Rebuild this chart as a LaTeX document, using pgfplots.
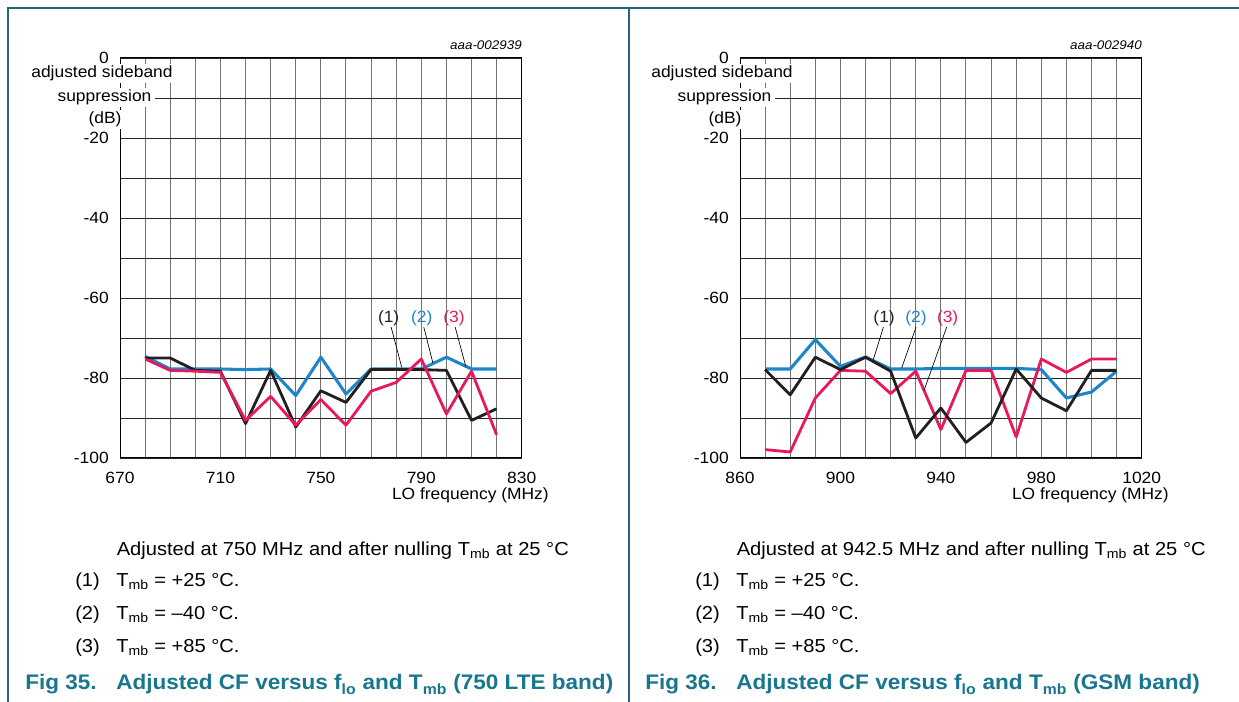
\documentclass[border=0pt]{standalone}
\usepackage{fontspec}
\setmainfont{Liberation Sans}[FakeStretch=1.07]
\usepackage{pgfplots}
\pgfplotsset{compat=1.18}
\definecolor{cblue}{RGB}{28,134,200}
\definecolor{cpink}{RGB}{232,24,92}
\definecolor{cblack}{RGB}{35,31,32}
\definecolor{tealcap}{RGB}{24,118,142}
\definecolor{framec}{RGB}{40,100,125}
\newcommand\ticksize{\fontsize{12.2}{14}\selectfont}
\newcommand\bodysize{\fontsize{14.1}{16}\selectfont}
\newcommand\figsize{\fontsize{15.8}{18}\selectfont\bfseries}
\pgfplotsset{myax/.style={
  scale only axis, width=301.3pt, height=300pt, anchor=south west,
  ymin=-100, ymax=0, ytick={-100,-90,...,0},
  yticklabels={-100,,-80,,-60,,-40,,-20,,0},
  grid=major, major tick length=0pt,
  x grid style={black!55, line width=0.75pt},
  y grid style={black!85, line width=0.6pt},
  axis line style={black, line width=0.75pt},
  tick label style={font=\ticksize, inner sep=0pt},
  yticklabel style={xshift=-8.25pt},
  xticklabel style={yshift=-10.5pt},
  clip=false,
}}
\begin{document}
\begin{tikzpicture}[x=0.75pt,y=0.75pt]
\path[use as bounding box] (0,0) rectangle (1239,702);
% frame lines
\draw[framec, line width=1.1pt] (8,0) -- (8,694) -- (1239,694);
\draw[framec, line width=1.1pt] (629,0) -- (629,694);

% ---------------- left chart ----------------
\begin{axis}[myax, at={(90pt,183pt)},
  xmin=670, xmax=830, xtick={670,680,...,830},
  xticklabels={670,,,,710,,,,750,,,,790,,,,830}]
\addplot[cblue, line width=2.3pt, line join=round] coordinates {
(680,-74.6)(690,-77.75)(700,-77.75)(710,-77.75)(720,-77.9)(730,-77.75)(740,-84.4)(750,-74.8)(760,-84)(770,-77.75)(780,-77.75)(790,-77.75)(800,-74.8)(810,-77.75)(820,-77.75)};
\addplot[cblack, line width=2.1pt, line join=round] coordinates {
(680,-75)(690,-75)(700,-78.1)(710,-78.3)(720,-91.4)(730,-78.1)(740,-92.25)(750,-83.2)(760,-86.1)(770,-77.9)(780,-77.9)(790,-77.9)(800,-78.1)(810,-90.6)(820,-87.7)};
\addplot[cpink, line width=2.1pt, line join=round] coordinates {
(680,-75.25)(690,-78.1)(700,-78.3)(710,-78.6)(720,-90.6)(730,-84.6)(740,-91.8)(750,-85.4)(760,-91.8)(770,-83.3)(780,-81.1)(790,-75.25)(800,-89)(810,-78.3)(820,-94.2)};
\node[font=\ticksize, text=cblack] at (axis cs:777,-65) {(1)};
\node[font=\ticksize, text=cblue] at (axis cs:790.2,-65) {(2)};
\node[font=\ticksize, text=cpink] at (axis cs:803,-65) {(3)};
\draw[black, line width=0.5pt] (axis cs:778,-67.3) -- (axis cs:782.2,-77.3);
\draw[black, line width=0.5pt] (axis cs:791,-67.3) -- (axis cs:794.6,-76.2);
\draw[black, line width=0.5pt] (axis cs:803.5,-67.3) -- (axis cs:807.8,-77.3);
\end{axis}

% ---------------- right chart ----------------
\begin{axis}[myax, at={(555pt,183pt)},
  xmin=860, xmax=1020, xtick={860,870,...,1020},
  xticklabels={860,,,,900,,,,940,,,,980,,,,1020}]
\addplot[cblue, line width=2.3pt, line join=round] coordinates {
(870,-77.75)(880,-77.75)(890,-70.4)(900,-77.1)(910,-74.75)(920,-77.75)(930,-77.75)(940,-77.6)(950,-77.6)(960,-77.6)(970,-77.6)(980,-77.9)(990,-85)(1000,-83.5)(1010,-78.3)};
\addplot[cpink, line width=2.1pt, line join=round] coordinates {
(870,-97.9)(880,-98.5)(890,-85)(900,-78.1)(910,-78.3)(920,-83.9)(930,-78.3)(940,-92.9)(950,-78.1)(960,-78.1)(970,-94.75)(980,-75.25)(990,-78.6)(1000,-75.25)(1010,-75.25)};
\addplot[cblack, line width=2.1pt, line join=round] coordinates {
(870,-77.9)(880,-84.2)(890,-74.8)(900,-77.9)(910,-74.8)(920,-78.3)(930,-95)(940,-87.5)(950,-96.1)(960,-91.25)(970,-77.75)(980,-85)(990,-88.2)(1000,-78.1)(1010,-78.1)};
\node[font=\ticksize, text=cblack] at (axis cs:917.4,-65) {(1)};
\node[font=\ticksize, text=cblue] at (axis cs:930.1,-65) {(2)};
\node[font=\ticksize, text=cpink] at (axis cs:942.7,-65) {(3)};
\draw[black, line width=0.5pt] (axis cs:917.1,-67.3) -- (axis cs:913.1,-75.4);
\draw[black, line width=0.5pt] (axis cs:930.1,-67.3) -- (axis cs:924.4,-77.5);
\draw[black, line width=0.5pt] (axis cs:942.3,-67.3) -- (axis cs:933.3,-83.1);
\end{axis}

% ---------------- labels ----------------
\foreach \dx/\code in {0/aaa-002939, 620/aaa-002940} {
  \node[font=\fontsize{9.4}{11}\selectfont\itshape, anchor=base east, inner sep=0pt] at (522+\dx, 652) {\code};
  \node[font=\ticksize, fill=white, inner xsep=3pt, inner ysep=1.5pt, anchor=base] at (102+\dx, 624) {adjusted sideband};
  \node[font=\ticksize, fill=white, inner xsep=3pt, inner ysep=1.5pt, anchor=base] at (104.5+\dx, 600) {suppression};
  \node[font=\ticksize, fill=white, inner xsep=3pt, inner ysep=1.5pt, anchor=base] at (105+\dx, 578) {(dB)};
  \node[font=\ticksize, anchor=base east, inner sep=0pt] at (549+\dx, 202) {LO frequency (MHz)};
  \node[font=\bodysize, anchor=base west, inner sep=0pt] at (75+\dx, 115) {(1)};
  \node[font=\bodysize, anchor=base west, inner sep=0pt] at (116+\dx, 115) {T\textsubscript{mb} = +25 °C.};
  \node[font=\bodysize, anchor=base west, inner sep=0pt] at (75+\dx, 82) {(2)};
  \node[font=\bodysize, anchor=base west, inner sep=0pt] at (116+\dx, 82) {T\textsubscript{mb} = –40 °C.};
  \node[font=\bodysize, anchor=base west, inner sep=0pt] at (75+\dx, 49) {(3)};
  \node[font=\bodysize, anchor=base west, inner sep=0pt] at (116+\dx, 49) {T\textsubscript{mb} = +85 °C.};
}
\node[font=\bodysize, anchor=base west, inner sep=0pt] at (116.5, 146) {Adjusted at 750 MHz and after nulling T\textsubscript{mb} at 25 °C};
\node[font=\bodysize, anchor=base west, inner sep=0pt] at (736.5, 146) {Adjusted at 942.5 MHz and after nulling T\textsubscript{mb} at 25 °C};
\node[font=\figsize, text=tealcap, anchor=base west, inner sep=0pt] at (25, 12) {Fig 35.};
\node[font=\figsize, text=tealcap, anchor=base west, inner sep=0pt] at (116, 12) {Adjusted CF versus f\textsubscript{lo} and T\textsubscript{mb} (750 LTE band)};
\node[font=\figsize, text=tealcap, anchor=base west, inner sep=0pt] at (645, 12) {Fig 36.};
\node[font=\figsize, text=tealcap, anchor=base west, inner sep=0pt] at (736, 12) {Adjusted CF versus f\textsubscript{lo} and T\textsubscript{mb} (GSM band)};
\end{tikzpicture}
\end{document}
